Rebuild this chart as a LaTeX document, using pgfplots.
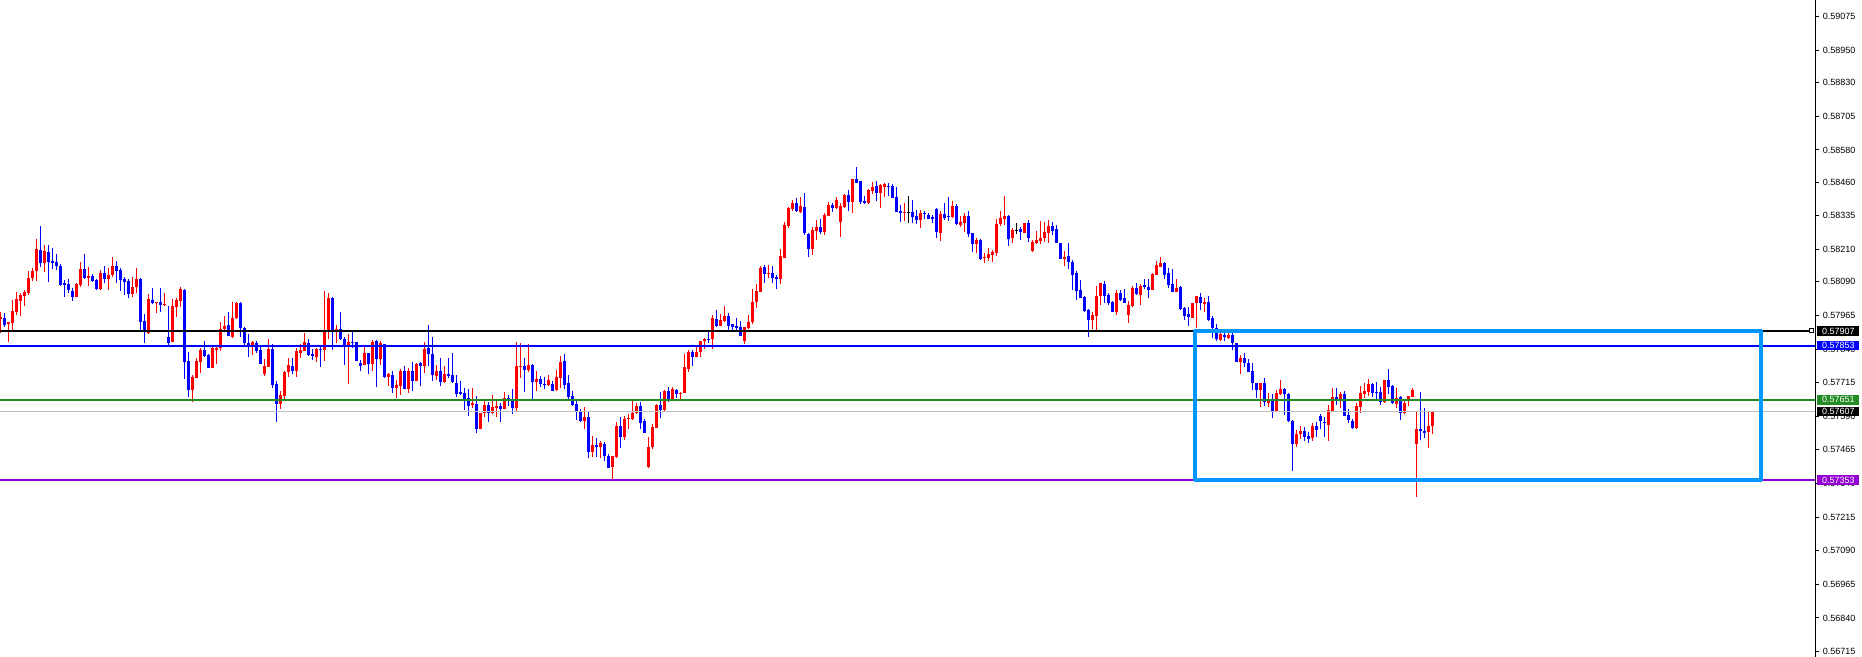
\documentclass[border=0pt]{standalone}
\usepackage{pgfplots}
\usepackage{pgfplotstable}
\pgfplotsset{compat=1.18}
\usepackage{fontspec}
\setmainfont{Liberation Sans}
\definecolor{mtred}{RGB}{255,0,0}
\definecolor{mtblue}{RGB}{0,0,255}
\definecolor{lgreen}{RGB}{34,139,34}
\definecolor{lpurple}{RGB}{148,0,211}
\definecolor{rectblue}{RGB}{0,150,255}
\definecolor{lgray}{RGB}{192,192,192}
\pgfplotsset{
  ctype/.style={restrict expr to domain={\thisrow{t}}{#1}},
  stick/.style 2 args={only marks, mark=*, mark size=0pt, mark options={draw=none, fill=none}, forget plot,
    error bars/y dir=plus, error bars/y explicit, error bars/error mark=none,
    error bars/error bar style={line width=#2, draw=#1, solid}},
}
\pgfplotstableread{
k t O H L C
0 1 0.57953 0.57976 0.57901 0.57960
1 2 0.57955 0.57973 0.57923 0.57929
2 1 0.57932 0.57942 0.57867 0.57939
3 1 0.57938 0.58022 0.57911 0.57981
4 1 0.57979 0.58051 0.57967 0.58026
5 1 0.58020 0.58047 0.57964 0.58041
6 1 0.58037 0.58059 0.58000 0.58051
7 1 0.58050 0.58130 0.58041 0.58103
8 1 0.58104 0.58140 0.58093 0.58130
9 1 0.58131 0.58249 0.58094 0.58211
10 2 0.58208 0.58297 0.58146 0.58161
11 1 0.58161 0.58227 0.58128 0.58204
12 2 0.58199 0.58227 0.58090 0.58165
13 2 0.58167 0.58214 0.58138 0.58161
14 2 0.58164 0.58193 0.58134 0.58150
15 2 0.58149 0.58155 0.58076 0.58078
16 2 0.58085 0.58097 0.58035 0.58078
17 2 0.58082 0.58100 0.58050 0.58059
18 2 0.58056 0.58066 0.58019 0.58035
19 1 0.58035 0.58084 0.58035 0.58082
20 1 0.58078 0.58165 0.58069 0.58138
21 2 0.58138 0.58193 0.58100 0.58105
22 1 0.58105 0.58146 0.58076 0.58112
23 2 0.58112 0.58119 0.58090 0.58093
24 2 0.58097 0.58100 0.58059 0.58063
25 1 0.58062 0.58134 0.58059 0.58123
26 2 0.58123 0.58149 0.58084 0.58100
27 1 0.58100 0.58142 0.58059 0.58115
28 1 0.58115 0.58183 0.58109 0.58149
29 2 0.58149 0.58167 0.58087 0.58131
30 2 0.58134 0.58140 0.58057 0.58097
31 2 0.58100 0.58109 0.58041 0.58090
32 2 0.58093 0.58100 0.58031 0.58045
33 1 0.58045 0.58107 0.58035 0.58069
34 1 0.58069 0.58141 0.58047 0.58100
35 2 0.58100 0.58104 0.57908 0.57942
36 2 0.57944 0.57970 0.57864 0.57902
37 1 0.57901 0.58043 0.57896 0.58026
38 2 0.58022 0.58067 0.58007 0.58011
39 1 0.58012 0.58016 0.57975 0.58015
40 2 0.58015 0.58067 0.57979 0.58004
41 1 0.58005 0.58048 0.58000 0.58007
42 2 0.57885 0.58000 0.57855 0.57864
43 1 0.57867 0.58026 0.57866 0.58000
44 1 0.57998 0.58028 0.57960 0.58024
45 1 0.58020 0.58069 0.57998 0.58063
46 2 0.58059 0.58063 0.57729 0.57793
47 2 0.57796 0.57828 0.57663 0.57688
48 1 0.57688 0.57744 0.57642 0.57736
49 1 0.57734 0.57808 0.57734 0.57796
50 1 0.57793 0.57844 0.57752 0.57836
51 2 0.57836 0.57870 0.57812 0.57815
52 2 0.57818 0.57820 0.57771 0.57771
53 1 0.57771 0.57849 0.57771 0.57843
54 1 0.57838 0.57849 0.57786 0.57845
55 1 0.57843 0.57939 0.57833 0.57913
56 1 0.57913 0.57963 0.57905 0.57926
57 2 0.57929 0.57976 0.57888 0.57890
58 1 0.57886 0.58014 0.57880 0.57954
59 1 0.57954 0.58014 0.57952 0.58011
60 2 0.58011 0.58015 0.57884 0.57919
61 2 0.57917 0.57923 0.57855 0.57864
62 2 0.57861 0.57896 0.57812 0.57849
63 1 0.57846 0.57870 0.57818 0.57865
64 2 0.57861 0.57870 0.57827 0.57834
65 2 0.57836 0.57849 0.57786 0.57786
66 1 0.57748 0.57802 0.57740 0.57777
67 1 0.57774 0.57877 0.57774 0.57840
68 2 0.57840 0.57858 0.57696 0.57706
69 2 0.57710 0.57721 0.57570 0.57636
70 1 0.57636 0.57684 0.57618 0.57669
71 1 0.57665 0.57758 0.57653 0.57755
72 1 0.57755 0.57805 0.57737 0.57781
73 2 0.57777 0.57805 0.57746 0.57758
74 1 0.57758 0.57843 0.57737 0.57833
75 1 0.57824 0.57858 0.57808 0.57836
76 1 0.57834 0.57898 0.57834 0.57865
77 2 0.57861 0.57876 0.57814 0.57818
78 2 0.57822 0.57839 0.57799 0.57814
79 1 0.57812 0.57843 0.57793 0.57840
80 2 0.57841 0.57849 0.57774 0.57838
81 1 0.57836 0.58056 0.57797 0.57911
82 1 0.57911 0.58047 0.57876 0.58030
83 2 0.58030 0.58035 0.57836 0.57907
84 1 0.57907 0.57929 0.57864 0.57914
85 2 0.57913 0.57976 0.57874 0.57876
86 2 0.57879 0.57886 0.57781 0.57853
87 1 0.57853 0.57895 0.57710 0.57865
88 2 0.57866 0.57907 0.57845 0.57864
89 2 0.57865 0.57865 0.57796 0.57796
90 2 0.57789 0.57799 0.57758 0.57778
91 1 0.57781 0.57849 0.57781 0.57827
92 2 0.57824 0.57827 0.57747 0.57784
93 1 0.57784 0.57874 0.57760 0.57867
94 2 0.57870 0.57874 0.57698 0.57804
95 1 0.57804 0.57870 0.57781 0.57861
96 2 0.57859 0.57859 0.57734 0.57737
97 1 0.57737 0.57752 0.57703 0.57746
98 2 0.57744 0.57758 0.57678 0.57696
99 1 0.57696 0.57725 0.57659 0.57706
100 1 0.57703 0.57766 0.57669 0.57758
101 2 0.57758 0.57777 0.57691 0.57691
102 1 0.57691 0.57771 0.57678 0.57758
103 2 0.57758 0.57790 0.57685 0.57722
104 1 0.57722 0.57787 0.57721 0.57784
105 2 0.57787 0.57790 0.57702 0.57778
106 1 0.57778 0.57865 0.57752 0.57840
107 2 0.57845 0.57929 0.57777 0.57820
108 2 0.57820 0.57883 0.57721 0.57743
109 1 0.57741 0.57781 0.57725 0.57758
110 2 0.57758 0.57808 0.57702 0.57719
111 1 0.57719 0.57777 0.57715 0.57747
112 2 0.57747 0.57808 0.57733 0.57740
113 2 0.57743 0.57826 0.57715 0.57719
114 2 0.57715 0.57743 0.57663 0.57673
115 2 0.57680 0.57721 0.57669 0.57673
116 2 0.57675 0.57696 0.57613 0.57653
117 2 0.57657 0.57691 0.57591 0.57628
118 1 0.57632 0.57696 0.57622 0.57641
119 2 0.57636 0.57667 0.57529 0.57543
120 1 0.57543 0.57603 0.57543 0.57603
121 1 0.57603 0.57647 0.57588 0.57632
122 2 0.57632 0.57642 0.57570 0.57601
123 1 0.57601 0.57669 0.57597 0.57626
124 1 0.57622 0.57650 0.57588 0.57628
125 2 0.57629 0.57641 0.57570 0.57617
126 1 0.57617 0.57681 0.57616 0.57659
127 2 0.57659 0.57669 0.57628 0.57654
128 2 0.57654 0.57691 0.57597 0.57622
129 1 0.57622 0.57865 0.57607 0.57777
130 1 0.57774 0.57861 0.57733 0.57777
131 2 0.57777 0.57808 0.57681 0.57762
132 1 0.57762 0.57859 0.57756 0.57781
133 2 0.57781 0.57783 0.57654 0.57719
134 1 0.57719 0.57758 0.57684 0.57728
135 2 0.57728 0.57741 0.57698 0.57710
136 2 0.57710 0.57737 0.57691 0.57706
137 1 0.57706 0.57743 0.57702 0.57725
138 2 0.57710 0.57721 0.57684 0.57685
139 1 0.57688 0.57762 0.57685 0.57735
140 1 0.57733 0.57814 0.57694 0.57793
141 2 0.57795 0.57821 0.57691 0.57706
142 2 0.57712 0.57743 0.57654 0.57663
143 2 0.57665 0.57684 0.57628 0.57632
144 2 0.57636 0.57647 0.57576 0.57605
145 2 0.57610 0.57616 0.57567 0.57572
146 1 0.57572 0.57623 0.57543 0.57586
147 2 0.57588 0.57610 0.57436 0.57458
148 1 0.57458 0.57517 0.57440 0.57483
149 2 0.57483 0.57508 0.57440 0.57477
150 1 0.57474 0.57498 0.57435 0.57492
151 2 0.57487 0.57496 0.57422 0.57444
152 2 0.57444 0.57449 0.57399 0.57399
153 1 0.57403 0.57443 0.57353 0.57443
154 1 0.57440 0.57570 0.57434 0.57554
155 2 0.57554 0.57589 0.57471 0.57511
156 1 0.57511 0.57591 0.57500 0.57580
157 1 0.57579 0.57597 0.57542 0.57585
158 1 0.57580 0.57647 0.57576 0.57601
159 1 0.57601 0.57641 0.57597 0.57628
160 2 0.57628 0.57642 0.57543 0.57566
161 2 0.57573 0.57579 0.57527 0.57529
162 1 0.57403 0.57514 0.57399 0.57475
163 1 0.57474 0.57562 0.57467 0.57549
164 1 0.57548 0.57635 0.57548 0.57632
165 2 0.57632 0.57679 0.57585 0.57614
166 1 0.57614 0.57688 0.57611 0.57684
167 2 0.57684 0.57698 0.57642 0.57645
168 1 0.57645 0.57698 0.57645 0.57690
169 2 0.57688 0.57690 0.57659 0.57672
170 1 0.57671 0.57679 0.57653 0.57676
171 1 0.57678 0.57822 0.57678 0.57772
172 1 0.57766 0.57837 0.57756 0.57830
173 2 0.57830 0.57837 0.57775 0.57812
174 1 0.57812 0.57849 0.57809 0.57830
175 1 0.57828 0.57870 0.57812 0.57870
176 1 0.57868 0.57882 0.57839 0.57877
177 2 0.57877 0.57905 0.57864 0.57876
178 1 0.57876 0.57967 0.57839 0.57957
179 2 0.57952 0.57985 0.57923 0.57926
180 1 0.57927 0.57969 0.57926 0.57948
181 1 0.57946 0.58000 0.57939 0.57964
182 2 0.57964 0.57973 0.57911 0.57927
183 2 0.57933 0.57933 0.57911 0.57923
184 2 0.57927 0.57954 0.57905 0.57917
185 2 0.57921 0.57944 0.57889 0.57890
186 1 0.57868 0.57923 0.57858 0.57923
187 1 0.57917 0.57967 0.57913 0.57942
188 1 0.57939 0.58063 0.57933 0.58016
189 1 0.58013 0.58082 0.57991 0.58057
190 1 0.58053 0.58149 0.58053 0.58143
191 2 0.58146 0.58153 0.58087 0.58118
192 1 0.58119 0.58153 0.58105 0.58122
193 2 0.58124 0.58149 0.58087 0.58105
194 2 0.58109 0.58115 0.58062 0.58099
195 1 0.58099 0.58212 0.58082 0.58184
196 1 0.58180 0.58314 0.58177 0.58301
197 1 0.58298 0.58369 0.58289 0.58363
198 1 0.58361 0.58394 0.58353 0.58384
199 2 0.58384 0.58400 0.58351 0.58353
200 1 0.58351 0.58407 0.58347 0.58372
201 2 0.58369 0.58419 0.58264 0.58270
202 2 0.58268 0.58270 0.58181 0.58211
203 1 0.58212 0.58295 0.58190 0.58283
204 1 0.58280 0.58320 0.58245 0.58293
205 2 0.58293 0.58324 0.58268 0.58274
206 1 0.58276 0.58345 0.58264 0.58338
207 1 0.58336 0.58388 0.58335 0.58376
208 2 0.58376 0.58384 0.58351 0.58366
209 1 0.58366 0.58407 0.58361 0.58394
210 1 0.58314 0.58384 0.58258 0.58372
211 1 0.58369 0.58415 0.58366 0.58413
212 2 0.58413 0.58431 0.58353 0.58388
213 1 0.58388 0.58472 0.58347 0.58472
214 2 0.58472 0.58518 0.58459 0.58459
215 2 0.58465 0.58466 0.58379 0.58388
216 2 0.58392 0.58409 0.58378 0.58384
217 1 0.58384 0.58435 0.58379 0.58431
218 1 0.58429 0.58460 0.58415 0.58444
219 2 0.58447 0.58465 0.58392 0.58419
220 1 0.58421 0.58452 0.58366 0.58450
221 1 0.58444 0.58459 0.58407 0.58452
222 2 0.58447 0.58456 0.58410 0.58441
223 2 0.58447 0.58452 0.58403 0.58403
224 2 0.58407 0.58444 0.58351 0.58351
225 2 0.58353 0.58376 0.58314 0.58347
226 1 0.58345 0.58384 0.58317 0.58351
227 0 0.58348 0.58409 0.58310 0.58348
228 2 0.58351 0.58394 0.58307 0.58332
229 2 0.58336 0.58357 0.58305 0.58320
230 1 0.58320 0.58357 0.58291 0.58347
231 2 0.58347 0.58353 0.58322 0.58341
232 2 0.58338 0.58345 0.58322 0.58324
233 2 0.58332 0.58338 0.58307 0.58322
234 2 0.58361 0.58366 0.58254 0.58276
235 1 0.58273 0.58353 0.58243 0.58342
236 2 0.58341 0.58382 0.58320 0.58328
237 2 0.58336 0.58407 0.58317 0.58330
238 1 0.58332 0.58392 0.58326 0.58373
239 2 0.58373 0.58378 0.58301 0.58305
240 1 0.58301 0.58335 0.58295 0.58314
241 1 0.58310 0.58347 0.58276 0.58335
242 2 0.58335 0.58354 0.58258 0.58268
243 2 0.58270 0.58273 0.58200 0.58229
244 1 0.58229 0.58252 0.58196 0.58245
245 2 0.58245 0.58248 0.58171 0.58174
246 1 0.58177 0.58196 0.58161 0.58181
247 1 0.58177 0.58214 0.58169 0.58192
248 1 0.58190 0.58208 0.58165 0.58202
249 1 0.58198 0.58322 0.58186 0.58305
250 1 0.58305 0.58353 0.58298 0.58328
251 1 0.58324 0.58409 0.58301 0.58335
252 2 0.58334 0.58340 0.58224 0.58249
253 1 0.58251 0.58291 0.58235 0.58282
254 0 0.58282 0.58307 0.58267 0.58282
255 2 0.58285 0.58292 0.58245 0.58276
256 1 0.58273 0.58309 0.58272 0.58307
257 2 0.58307 0.58319 0.58239 0.58254
258 1 0.58204 0.58245 0.58202 0.58239
259 1 0.58233 0.58278 0.58229 0.58245
260 1 0.58241 0.58316 0.58229 0.58251
261 1 0.58254 0.58313 0.58239 0.58276
262 1 0.58272 0.58319 0.58235 0.58297
263 2 0.58297 0.58313 0.58264 0.58278
264 2 0.58285 0.58301 0.58233 0.58235
265 2 0.58235 0.58235 0.58173 0.58174
266 1 0.58174 0.58204 0.58148 0.58181
267 2 0.58186 0.58235 0.58136 0.58164
268 2 0.58164 0.58171 0.58059 0.58115
269 2 0.58124 0.58131 0.58024 0.58055
270 2 0.58059 0.58096 0.58031 0.58031
271 2 0.58032 0.58037 0.57979 0.57982
272 2 0.57985 0.57987 0.57886 0.57948
273 1 0.57948 0.57979 0.57913 0.57966
274 1 0.57962 0.58074 0.57910 0.58037
275 1 0.58037 0.58086 0.58003 0.58084
276 2 0.58081 0.58093 0.58012 0.58037
277 2 0.58041 0.58049 0.58003 0.58012
278 2 0.58013 0.58019 0.57979 0.57979
279 1 0.57979 0.58059 0.57966 0.58047
280 2 0.58047 0.58059 0.58019 0.58022
281 2 0.58031 0.58062 0.58012 0.58012
282 1 0.57966 0.58019 0.57938 0.58003
283 1 0.58000 0.58074 0.57997 0.58065
284 2 0.58065 0.58084 0.58041 0.58043
285 1 0.58041 0.58080 0.58003 0.58074
286 2 0.58078 0.58099 0.58062 0.58072
287 2 0.58072 0.58099 0.58028 0.58059
288 1 0.58059 0.58121 0.58059 0.58119
289 1 0.58117 0.58168 0.58115 0.58152
290 1 0.58146 0.58181 0.58146 0.58161
291 2 0.58161 0.58164 0.58099 0.58117
292 2 0.58121 0.58140 0.58065 0.58078
293 2 0.58081 0.58136 0.58053 0.58053
294 1 0.58053 0.58102 0.58053 0.58068
295 2 0.58072 0.58074 0.57985 0.57987
296 2 0.57993 0.57997 0.57948 0.57962
297 2 0.57970 0.57997 0.57927 0.57960
298 1 0.57956 0.58012 0.57956 0.58010
299 1 0.58010 0.58037 0.57917 0.58037
300 2 0.58034 0.58050 0.57985 0.58012
301 1 0.58007 0.58028 0.57979 0.58016
302 2 0.58016 0.58037 0.57944 0.57948
303 2 0.57954 0.57963 0.57880 0.57917
304 2 0.57919 0.57933 0.57871 0.57876
305 1 0.57873 0.57904 0.57871 0.57896
306 2 0.57892 0.57904 0.57870 0.57886
307 1 0.57882 0.57904 0.57876 0.57892
308 2 0.57892 0.57898 0.57836 0.57864
309 2 0.57864 0.57864 0.57793 0.57793
310 1 0.57793 0.57818 0.57747 0.57808
311 2 0.57805 0.57824 0.57772 0.57787
312 2 0.57787 0.57802 0.57756 0.57756
313 2 0.57758 0.57787 0.57688 0.57712
314 2 0.57712 0.57715 0.57659 0.57688
315 1 0.57688 0.57715 0.57626 0.57712
316 2 0.57712 0.57731 0.57628 0.57644
317 1 0.57638 0.57675 0.57626 0.57648
318 2 0.57648 0.57673 0.57582 0.57611
319 1 0.57611 0.57688 0.57607 0.57675
320 1 0.57672 0.57725 0.57669 0.57691
321 2 0.57691 0.57696 0.57595 0.57672
322 2 0.57673 0.57675 0.57567 0.57574
323 2 0.57574 0.57576 0.57388 0.57486
324 1 0.57486 0.57539 0.57475 0.57524
325 1 0.57523 0.57554 0.57505 0.57535
326 2 0.57535 0.57549 0.57499 0.57514
327 2 0.57517 0.57533 0.57492 0.57505
328 1 0.57510 0.57564 0.57499 0.57554
329 2 0.57554 0.57570 0.57514 0.57539
330 2 0.57592 0.57598 0.57541 0.57574
331 2 0.57566 0.57588 0.57512 0.57564
332 1 0.57558 0.57632 0.57499 0.57613
333 1 0.57611 0.57694 0.57611 0.57660
334 2 0.57660 0.57694 0.57632 0.57650
335 1 0.57654 0.57681 0.57619 0.57673
336 2 0.57673 0.57684 0.57591 0.57592
337 2 0.57595 0.57616 0.57564 0.57576
338 2 0.57574 0.57579 0.57543 0.57545
339 1 0.57545 0.57638 0.57543 0.57628
340 1 0.57626 0.57702 0.57601 0.57675
341 1 0.57673 0.57712 0.57657 0.57685
342 1 0.57681 0.57727 0.57667 0.57710
343 2 0.57710 0.57715 0.57663 0.57678
344 2 0.57679 0.57719 0.57653 0.57678
345 2 0.57679 0.57698 0.57632 0.57644
346 1 0.57644 0.57725 0.57641 0.57725
347 2 0.57725 0.57766 0.57673 0.57700
348 2 0.57702 0.57706 0.57636 0.57638
349 1 0.57636 0.57696 0.57619 0.57657
350 2 0.57660 0.57665 0.57576 0.57603
351 1 0.57601 0.57648 0.57598 0.57641
352 1 0.57653 0.57665 0.57628 0.57665
353 1 0.57663 0.57696 0.57660 0.57688
354 1 0.57487 0.57610 0.57289 0.57543
355 2 0.57543 0.57681 0.57502 0.57535
356 2 0.57535 0.57622 0.57510 0.57527
357 1 0.57533 0.57607 0.57473 0.57554
358 1 0.57554 0.57610 0.57523 0.57607
}\candles
\begin{document}
\begin{tikzpicture}
\begin{axis}[
  at={(0,0)}, anchor=south west,
  scale only axis, width=907.5pt, height=328.5pt,
  xmin=-0.175, xmax=453.575,
  ymin=0.566949, ymax=0.591377,
  axis x line=none,
  axis y line*=right,
  y axis line style={line width=0.5pt, black},
  ytick={0.59075,0.58950,0.58830,0.58705,0.58580,0.58460,0.58335,0.58210,0.58090,0.57965,0.57840,0.57715,0.57590,0.57465,0.57340,0.57215,0.57090,0.56965,0.56840,0.56715},
  yticklabels={0.59075,0.58950,0.58830,0.58705,0.58580,0.58460,0.58335,0.58210,0.58090,0.57965,0.57840,0.57715,0.57590,0.57465,0.57340,0.57215,0.57090,0.56965,0.56840,0.56715},
  ytick pos=right, yticklabel pos=right,
  tick align=outside, major tick length=2pt,
  ytick style={black, line width=0.5pt},
  yticklabel style={anchor=west, inner sep=0pt, xshift=1.75pt, font=\fontsize{4.5}{5}\selectfont},
  scaled y ticks=false,
  clip=false,
]
% wicks
\addplot[ctype={0.5:1.5}, stick={mtred}{0.5pt}] table[x=k, y=L, y error plus expr=\thisrow{H}-\thisrow{L}] {\candles};
\addplot[ctype={1.5:2.5}, stick={mtblue}{0.5pt}] table[x=k, y=L, y error plus expr=\thisrow{H}-\thisrow{L}] {\candles};
\addplot[ctype={-0.5:0.5}, stick={black}{0.5pt}] table[x=k, y=L, y error plus expr=\thisrow{H}-\thisrow{L}] {\candles};
% bodies
\addplot[ctype={0.5:1.5}, stick={mtred}{1.5pt}] table[x=k, y=O, y error plus expr={max(\thisrow{C}-\thisrow{O},0.00003)}] {\candles};
\addplot[ctype={1.5:2.5}, stick={mtblue}{1.5pt}] table[x=k, y=C, y error plus expr={max(\thisrow{O}-\thisrow{C},0.00003)}] {\candles};
\addplot[ctype={-0.5:0.5}, stick={black}{1.5pt}] table[x=k, y expr=\thisrow{O}-0.000015, y error plus expr=0.00003] {\candles};
% horizontal levels
\addplot[lgray, line width=0.5pt] coordinates {(-0.175,0.57607) (453.575,0.57607)};
\addplot[black, line width=1pt] coordinates {(-0.175,0.57907) (452.575,0.57907)};
\addplot[mtblue, line width=1pt] coordinates {(-0.175,0.57853) (453.575,0.57853)};
\addplot[lgreen, line width=1pt] coordinates {(-0.175,0.57651) (453.575,0.57651)};
\addplot[lpurple, line width=1pt] coordinates {(-0.175,0.57353) (453.575,0.57353)};
\addplot[only marks, mark=square*, mark size=1pt, mark options={fill=white, draw=black, line width=0.5pt}] coordinates {(452.575,0.57907)};
\draw[rectblue, line width=2pt, line join=round] (axis cs:298.575,0.57907) rectangle (axis cs:440.075,0.57353);
\coordinate (b1) at (axis cs:453.575,0.57907);
\coordinate (b2) at (axis cs:453.575,0.57853);
\coordinate (b3) at (axis cs:453.575,0.57651);
\coordinate (b4) at (axis cs:453.575,0.57607);
\coordinate (b5) at (axis cs:453.575,0.57353);
\end{axis}
\begin{scope}[every node/.style={anchor=west, xshift=1pt, inner sep=0pt, minimum width=21pt, minimum height=4.8pt, text=white, font=\fontsize{4.5}{5}\selectfont}]
\node[fill=black] at (b1) {0.57907};
\node[fill=mtblue] at (b2) {0.57853};
\node[fill=lgreen] at (b3) {0.57651};
\node[fill=black] at (b4) {0.57607};
\node[fill=lpurple] at (b5) {0.57353};
\end{scope}
\pgfresetboundingbox
\path[use as bounding box] (0,0) rectangle (931pt,328.5pt);
\end{tikzpicture}
\end{document}
